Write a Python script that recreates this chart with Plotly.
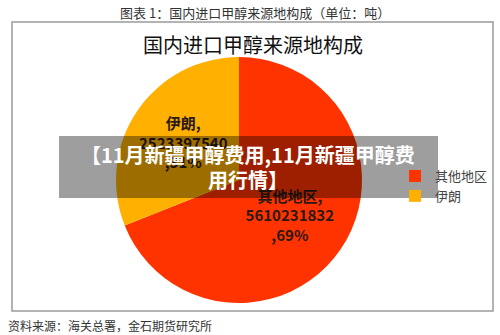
import plotly.graph_objects as go

labels = ["其他地区", "伊朗"]
values = [5610231832, 2523397540]
colors = ["#FF3300", "#FFB000"]

W, H = 500, 335
FONT = "Noto Sans CJK SC"

def px(x):
    return x / W

def py(y):
    return 1 - y / H

fig = go.Figure()
fig.add_trace(go.Pie(
    labels=labels,
    values=values,
    sort=False,
    direction="clockwise",
    rotation=0,
    marker=dict(colors=colors, line=dict(width=0)),
    texttemplate="<b>%{label},</b><br><b>%{value:.0f}</b><br><b>,%{percent:.0%}</b>",
    textposition="inside",
    insidetextorientation="horizontal",
    textfont=dict(family=FONT, size=15, color="#2b1a12"),
    domain=dict(x=[px(116), px(362)], y=[py(303), py(57)]),
    hoverinfo="label+value+percent",
))

def ann(text, x, y, size, color, xanchor="center", bold=False):
    t = f"<b>{text}</b>" if bold else text
    return dict(text=t, x=px(x), y=py(y), xref="paper", yref="paper",
                showarrow=False, xanchor=xanchor, yanchor="middle",
                font=dict(family=FONT, size=size, color=color))

fig.update_layout(
    width=W, height=H,
    margin=dict(l=0, r=0, t=0, b=0, autoexpand=False),
    paper_bgcolor="white",
    plot_bgcolor="white",
    font=dict(family=FONT, color="#333"),
    showlegend=True,
    legend=dict(
        x=px(395), y=py(161), xanchor="left", yanchor="top",
        font=dict(family=FONT, size=13, color="#444"),
        bgcolor="rgba(0,0,0,0)",
        itemclick=False,
    ),
    shapes=[
        dict(type="rect", xref="paper", yref="paper",
             x0=px(12), x1=px(493), y0=py(311), y1=py(22),
             line=dict(color="#9a9a9a", width=1.5), fillcolor="rgba(0,0,0,0)",
             layer="below"),
        dict(type="rect", xref="paper", yref="paper",
             x0=px(59), x1=px(438), y0=py(198), y1=py(136),
             line=dict(width=0), fillcolor="rgba(0,0,0,0.38)", layer="above"),
    ],
    annotations=[
        ann("图表 1：国内进口甲醇来源地构成（单位：吨）", 255, 12, 13, "#333"),
        ann("国内进口甲醇来源地构成", 253, 45, 20, "#111"),
        ann("资料来源：海关总署，金石期货研究所", 6, 325, 12, "#333", xanchor="left"),
        ann("【11月新疆甲醇费用,11月新疆甲醇费", 248, 154, 20, "white", bold=True),
        ann("用行情】", 248, 179, 20, "white", bold=True),
    ],
)

fig.write_html("out.html")
